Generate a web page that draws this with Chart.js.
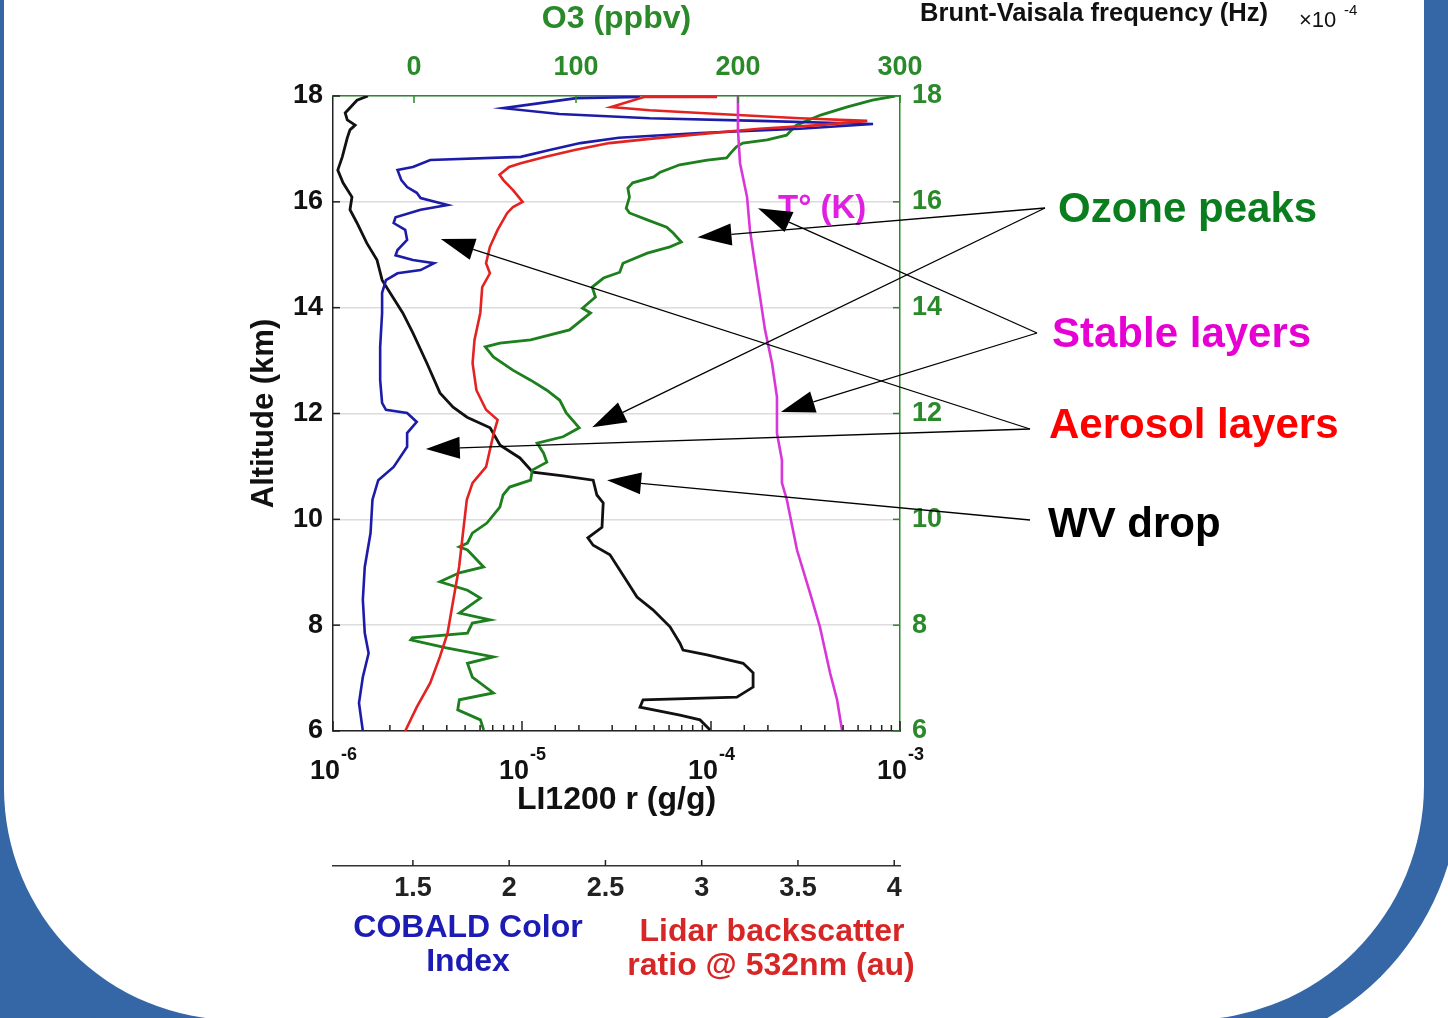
<!DOCTYPE html>
<html><head><meta charset="utf-8">
<script src="https://cdn.jsdelivr.net/npm/chart.js@4.4.1/dist/chart.umd.min.js"></script>
<style>
html,body{margin:0;padding:0;background:#fff;width:1448px;height:1018px;overflow:hidden;position:relative}
#bl{position:absolute;left:0;top:760px;width:260px;height:258px;background:#3566a5}
#frame{position:absolute;left:-40px;top:-400px;width:1420px;height:1420px;background:#fff;border-left:44px solid #3566a5;border-right:36px solid #3566a5;border-bottom:36px solid #3566a5;border-bottom-left-radius:276px 268px;border-bottom-right-radius:271px 271px}
#c{position:absolute;left:0;top:0;width:1448px;height:1018px}
</style></head><body>
<div id="bl"></div><div id="frame"></div>
<canvas id="c" width="1448" height="1018"></canvas>
<script>
// ---------- tick labels ----------
const altitudeTicks = [6, 8, 10, 12, 14, 16, 18];
const o3Ticks = [0, 100, 200, 300];
const ratioTicks = [1.5, 2, 2.5, 3, 3.5, 4];

// ---------- water vapour mixing ratio (LI1200, g/g) ----------
const wvAlt = [18.0,17.92,17.68,17.55,17.45,17.36,17.21,16.85,16.60,16.36,16.09,15.85,15.60,15.22,14.90,14.52,14.20,13.90,13.52,12.95,12.39,12.12,11.93,11.73,11.40,11.16,10.89,10.82,10.74,10.46,10.31,9.85,9.65,9.51,9.33,8.95,8.53,8.29,7.97,7.66,7.53,7.44,7.28,7.10,6.83,6.64,6.59,6.45,6.30,6.21,6.02];
const wvMix = [1.53e-6,1.34e-6,1.16e-6,1.19e-6,1.31e-6,1.23e-6,1.19e-6,1.12e-6,1.06e-6,1.13e-6,1.26e-6,1.23e-6,1.34e-6,1.51e-6,1.71e-6,1.82e-6,2.07e-6,2.34e-6,2.65e-6,3.14e-6,3.68e-6,4.32e-6,5.12e-6,6.78e-6,7.66e-6,9.75e-6,1.14e-5,1.65e-5,2.38e-5,2.49e-5,2.69e-5,2.65e-5,2.23e-5,2.38e-5,2.92e-5,3.42e-5,4.06e-5,4.93e-5,6.07e-5,6.85e-5,7.11e-5,9.53e-5,1.48e-4,1.67e-4,1.67e-4,1.37e-4,4.37e-5,4.21e-5,6.85e-5,8.75e-5,9.89e-5];

// ---------- COBALD colour index ----------
const ciAlt = [17.98,17.96,17.77,17.66,17.58,17.53,17.47,17.38,17.30,17.21,17.11,16.98,16.85,16.79,16.66,16.60,16.41,16.28,16.17,16.07,15.94,15.85,15.71,15.60,15.47,15.28,15.09,14.99,14.90,14.84,14.71,14.65,14.52,14.28,13.90,13.26,12.63,12.20,12.07,12.01,11.84,11.63,11.37,10.99,10.74,10.37,9.74,9.10,8.48,7.85,7.47,7.02,6.53,6.0];
const ciVal = [2.68,2.35,1.97,2.26,2.73,3.30,3.89,3.51,2.99,2.57,2.37,2.21,2.06,1.59,1.50,1.42,1.44,1.47,1.52,1.54,1.68,1.54,1.41,1.40,1.46,1.47,1.42,1.41,1.50,1.61,1.54,1.42,1.36,1.34,1.34,1.33,1.33,1.34,1.36,1.47,1.52,1.47,1.47,1.40,1.32,1.29,1.28,1.25,1.24,1.25,1.27,1.24,1.22,1.24];

// ---------- lidar backscatter ratio @ 532 nm ----------
const bsrAlt = [17.98,17.98,17.79,17.73,17.66,17.58,17.53,17.45,17.38,17.28,17.19,17.11,16.98,16.85,16.73,16.66,16.51,16.41,16.22,16.00,15.90,15.79,15.47,15.15,14.84,14.65,14.39,13.90,13.39,12.95,12.44,12.07,11.88,11.63,10.99,10.69,10.37,9.74,9.10,8.48,7.85,7.40,6.91,6.45,6.0];
const bsrVal = [3.08,2.70,2.53,2.73,3.09,3.51,3.86,3.61,3.30,2.99,2.73,2.52,2.34,2.19,2.06,2.00,1.95,1.97,2.02,2.07,2.02,1.99,1.94,1.90,1.88,1.90,1.86,1.85,1.82,1.81,1.83,1.88,1.94,1.92,1.88,1.81,1.78,1.76,1.74,1.71,1.68,1.64,1.59,1.52,1.46];

// ---------- ozone (ppbv) ----------
const o3Alt = [18.0,17.92,17.79,17.64,17.45,17.26,17.17,17.11,17.04,16.94,16.83,16.79,16.70,16.56,16.47,16.36,16.26,16.09,15.88,15.79,15.66,15.52,15.41,15.24,15.15,15.03,14.84,14.67,14.56,14.39,14.20,13.99,13.90,13.58,13.39,13.33,13.26,13.07,12.82,12.63,12.44,12.25,12.01,11.73,11.56,11.44,11.25,11.08,10.93,10.74,10.61,10.46,10.23,9.93,9.74,9.55,9.48,9.42,9.10,8.99,8.82,8.66,8.51,8.23,8.10,8.04,7.85,7.76,7.72,7.57,7.40,7.28,7.02,6.72,6.59,6.40,6.21,6.02];
const o3Val = [297,283,267,251,236,230,218,203,199,196,193,181,164,152,148,135,132,133,131,133,144,156,160,165,158,144,129,127,117,110,112,104,109,96,72,53,44,49,61,72,82,90,94,102,92,76,80,82,73,72,59,55,53,45,36,33,28,33,43,28,16,33,41,28,47,36,33,-1,-2,20,49,33,36,49,28,27,41,43];

// ---------- temperature (K) ----------
const tAlt = [18.0,17.36,16.73,16.09,15.47,14.84,14.20,13.58,12.95,12.31,11.93,11.63,11.12,10.69,10.37,9.42,8.61,7.97,7.10,6.59,6.02];
const tVal = [205.7,205.7,206.5,209.2,210.3,212.2,214.2,216.1,218.8,220.7,220.7,220.7,222.6,222.6,224.5,228.4,233.4,237.2,241.1,243.8,245.7];

const zip = (xs, ys) => xs.map((x, i) => ({x: x, y: ys[i]}));

const FONT = "'Liberation Sans', Arial, Helvetica, sans-serif";
const GREEN = '#2a8a2a';
const isPow10 = v => { const e = Math.log10(v); return Math.abs(e - Math.round(e)) < 1e-6; };
const fixTicks = arr => (s => { s.ticks = arr.map(v => ({value: v})); });

const notes = [
  {text:'Ozone peaks', color:'#0a7d1e', tx:1058, ty:222, fx:1045, fy:208, to:[['xO3',175,15.33],['xO3',110,11.74]]},
  {text:'Stable layers', color:'#e600d3', tx:1052, ty:347, fx:1037, fy:333, to:[['xT',213.4,15.88],['xT',222.2,12.03]]},
  {text:'Aerosol layers', color:'#ff0000', tx:1049, ty:438, fx:1030, fy:429, to:[['xCI',1.645,15.30],['xCI',1.567,11.33]]},
  {text:'WV drop', color:'#000000', tx:1048, ty:537, fx:1030, fy:520, to:[['x',2.82e-5,10.74]]}
];

function arrow(ctx, x0, y0, x1, y1) {
  const dx = x1 - x0, dy = y1 - y0, L = Math.hypot(dx, dy), ux = dx / L, uy = dy / L;
  const hl = 34, hw = 11;
  const bx = x1 - ux * hl, by = y1 - uy * hl;
  ctx.beginPath(); ctx.moveTo(x0, y0); ctx.lineTo(bx, by); ctx.stroke();
  ctx.beginPath(); ctx.moveTo(x1, y1); ctx.lineTo(bx - uy * hw, by + ux * hw); ctx.lineTo(bx + uy * hw, by - ux * hw); ctx.closePath(); ctx.fill();
}

const decor = {
  id: 'decor',
  afterDraw(chart) {
    const ctx = chart.ctx, s = chart.scales, a = chart.chartArea;
    const seg = (x0, y0, x1, y1) => { ctx.beginPath(); ctx.moveTo(x0, y0); ctx.lineTo(x1, y1); ctx.stroke(); };
    ctx.save();
    ctx.lineWidth = 1.5;
    ctx.strokeStyle = '#222';
    s.y.ticks.forEach(t => { const p = s.y.getPixelForValue(t.value); seg(a.left, p, a.left + 7, p); });
    s.x.ticks.forEach(t => { const p = s.x.getPixelForValue(t.value); seg(p, a.bottom, p, a.bottom - (isPow10(t.value) ? 10 : 6)); });
    s.xCI.ticks.forEach(t => { const p = s.xCI.getPixelForValue(t.value); seg(p, s.xCI.top, p, s.xCI.top - 6); });
    ctx.strokeStyle = GREEN;
    s.y2.ticks.forEach(t => { const p = s.y2.getPixelForValue(t.value); seg(a.right, p, a.right - 7, p); });
    s.xO3.ticks.forEach(t => { const p = s.xO3.getPixelForValue(t.value); seg(p, a.top, p, a.top + 7); });

    // log-axis labels with raised exponent
    ctx.fillStyle = '#111';
    ctx.textBaseline = 'alphabetic';
    s.x.ticks.filter(t => isPow10(t.value)).forEach(t => {
      const p = s.x.getPixelForValue(t.value);
      const e = Math.round(Math.log10(t.value));
      ctx.textAlign = 'right'; ctx.font = "bold 27px " + FONT; ctx.fillText('10', p + 7, 779);
      ctx.textAlign = 'left'; ctx.font = "bold 18px " + FONT; ctx.fillText(String(e), p + 8, 760);
    });

    // texts
    ctx.fillStyle = '#e020e0';
    ctx.textAlign = 'left';
    ctx.font = "bold 33px " + FONT;
    ctx.fillText('T\u00B0 (K)', 778, 218);

    ctx.textAlign = 'center';
    ctx.font = "bold 32px " + FONT;
    ctx.fillStyle = '#1c1cb4';
    ctx.fillText('COBALD Color', 468, 937);
    ctx.fillText('Index', 468, 971);
    ctx.fillStyle = '#d72626';
    ctx.fillText('Lidar backscatter', 772, 941);
    ctx.fillText('ratio @ 532nm (au)', 771, 975);

    // Brunt-Vaisala header
    ctx.fillStyle = '#111';
    ctx.textAlign = 'left';
    ctx.font = "bold 26px " + FONT;
    const bv = 'Brunt-Vaisala frequency (Hz)';
    const w = ctx.measureText(bv).width;
    ctx.save(); ctx.translate(920, 21); ctx.scale(348 / w, 1); ctx.fillText(bv, 0, 0); ctx.restore();
    ctx.font = "22px " + FONT;
    ctx.fillText('\u00D710', 1299, 27);
    ctx.font = "15px " + FONT;
    ctx.fillText('-4', 1344, 15);

    // annotations
    ctx.strokeStyle = '#000'; ctx.fillStyle = '#000'; ctx.lineWidth = 1.3;
    notes.forEach(n => {
      n.to.forEach(([ax, xv, yv]) => arrow(ctx, n.fx, n.fy, s[ax].getPixelForValue(xv), s.y.getPixelForValue(yv)));
    });
    ctx.font = "bold 42px " + FONT;
    ctx.textAlign = 'left';
    notes.forEach(n => { ctx.fillStyle = n.color; ctx.fillText(n.text, n.tx, n.ty); });
    ctx.restore();
  }
};

const line = (label, data, color, xAxisID, width) => ({
  label, data, xAxisID, yAxisID: 'y', showLine: true, borderColor: color, backgroundColor: color,
  borderWidth: width, pointRadius: 0, tension: 0, fill: false
});

new Chart(document.getElementById('c'), {
  type: 'scatter',
  data: { datasets: [
    line('T (K)', zip(tVal, tAlt), '#d936d9', 'xT', 2.6),
    line('Lidar backscatter ratio', zip(bsrVal, bsrAlt), '#e32222', 'xCI', 2.6),
    line('COBALD Color Index', zip(ciVal, ciAlt), '#1c1ca8', 'xCI', 2.6),
    line('O3 (ppbv)', zip(o3Val, o3Alt), '#1d7f1d', 'xO3', 2.8),
    line('LI1200 r (g/g)', zip(wvMix, wvAlt), '#111111', 'x', 2.8)
  ]},
  options: {
    responsive: false, animation: false, devicePixelRatio: 1,
    layout: { padding: { left: 240, right: 488, top: 0, bottom: 92 } },
    plugins: { legend: { display: false }, tooltip: { enabled: false } },
    scales: {
      y: {
        type: 'linear', position: 'left', min: 6, max: 18, afterBuildTicks: fixTicks(altitudeTicks),
        ticks: { color: '#111', font: { family: FONT, size: 27, weight: 'bold' }, padding: 10 },
        grid: { color: '#dcdcdc', lineWidth: 1.5, drawTicks: false },
        border: { color: '#222', width: 1.5 },
        title: { display: true, text: 'Altitude (km)', color: '#111', font: { family: FONT, size: 31, weight: 'bold' }, padding: { top: 6, bottom: 0 } },
        afterFit: s => { s.width = 93; }
      },
      y2: {
        type: 'linear', position: 'right', min: 6, max: 18, afterBuildTicks: fixTicks(altitudeTicks),
        ticks: { color: GREEN, font: { family: FONT, size: 27, weight: 'bold' }, padding: 12 },
        grid: { drawOnChartArea: false, drawTicks: false },
        border: { color: GREEN, width: 1.5 },
        afterFit: s => { s.width = 60; }
      },
      x: {
        type: 'logarithmic', position: 'bottom', min: 1e-6, max: 1e-3, weight: 1,
        ticks: { autoSkip: false, maxRotation: 0, color: '#111', font: { family: FONT, size: 27, weight: 'bold' }, padding: 18,
          callback: () => '' },
        grid: { drawOnChartArea: false, drawTicks: false },
        border: { color: '#222', width: 1.5 },
        title: { display: true, text: 'LI1200 r (g/g)', color: '#111', font: { family: FONT, size: 32, weight: 'bold' }, padding: { top: 0, bottom: 47 } },
        afterFit: s => { s.height = 135; }
      },
      xCI: {
        type: 'linear', position: 'bottom', min: 1.085, max: 4.03, weight: 2, afterBuildTicks: fixTicks(ratioTicks),
        ticks: { autoSkip: false, maxRotation: 0, color: '#222', font: { family: FONT, size: 27, weight: 'bold' }, padding: 6,
          callback: v => String(v) },
        grid: { drawOnChartArea: false, drawTicks: false },
        border: { color: '#333', width: 1.5 },
        afterFit: s => { s.height = 60; }
      },
      xO3: {
        type: 'linear', position: 'top', min: -50, max: 300, afterBuildTicks: fixTicks(o3Ticks),
        ticks: { autoSkip: false, maxRotation: 0, color: GREEN, font: { family: FONT, size: 27, weight: 'bold' }, padding: 12 },
        grid: { drawOnChartArea: false, drawTicks: false },
        border: { color: GREEN, width: 1.5 },
        title: { display: true, text: 'O3 (ppbv)', color: GREEN, font: { family: FONT, size: 32, weight: 'bold' }, padding: { top: 0, bottom: 0 } },
        afterFit: s => { s.height = 96; }
      },
      xT: { type: 'linear', position: 'top', min: 50, max: 268, display: false }
    }
  },
  plugins: [decor]
});
</script>
</body></html>
